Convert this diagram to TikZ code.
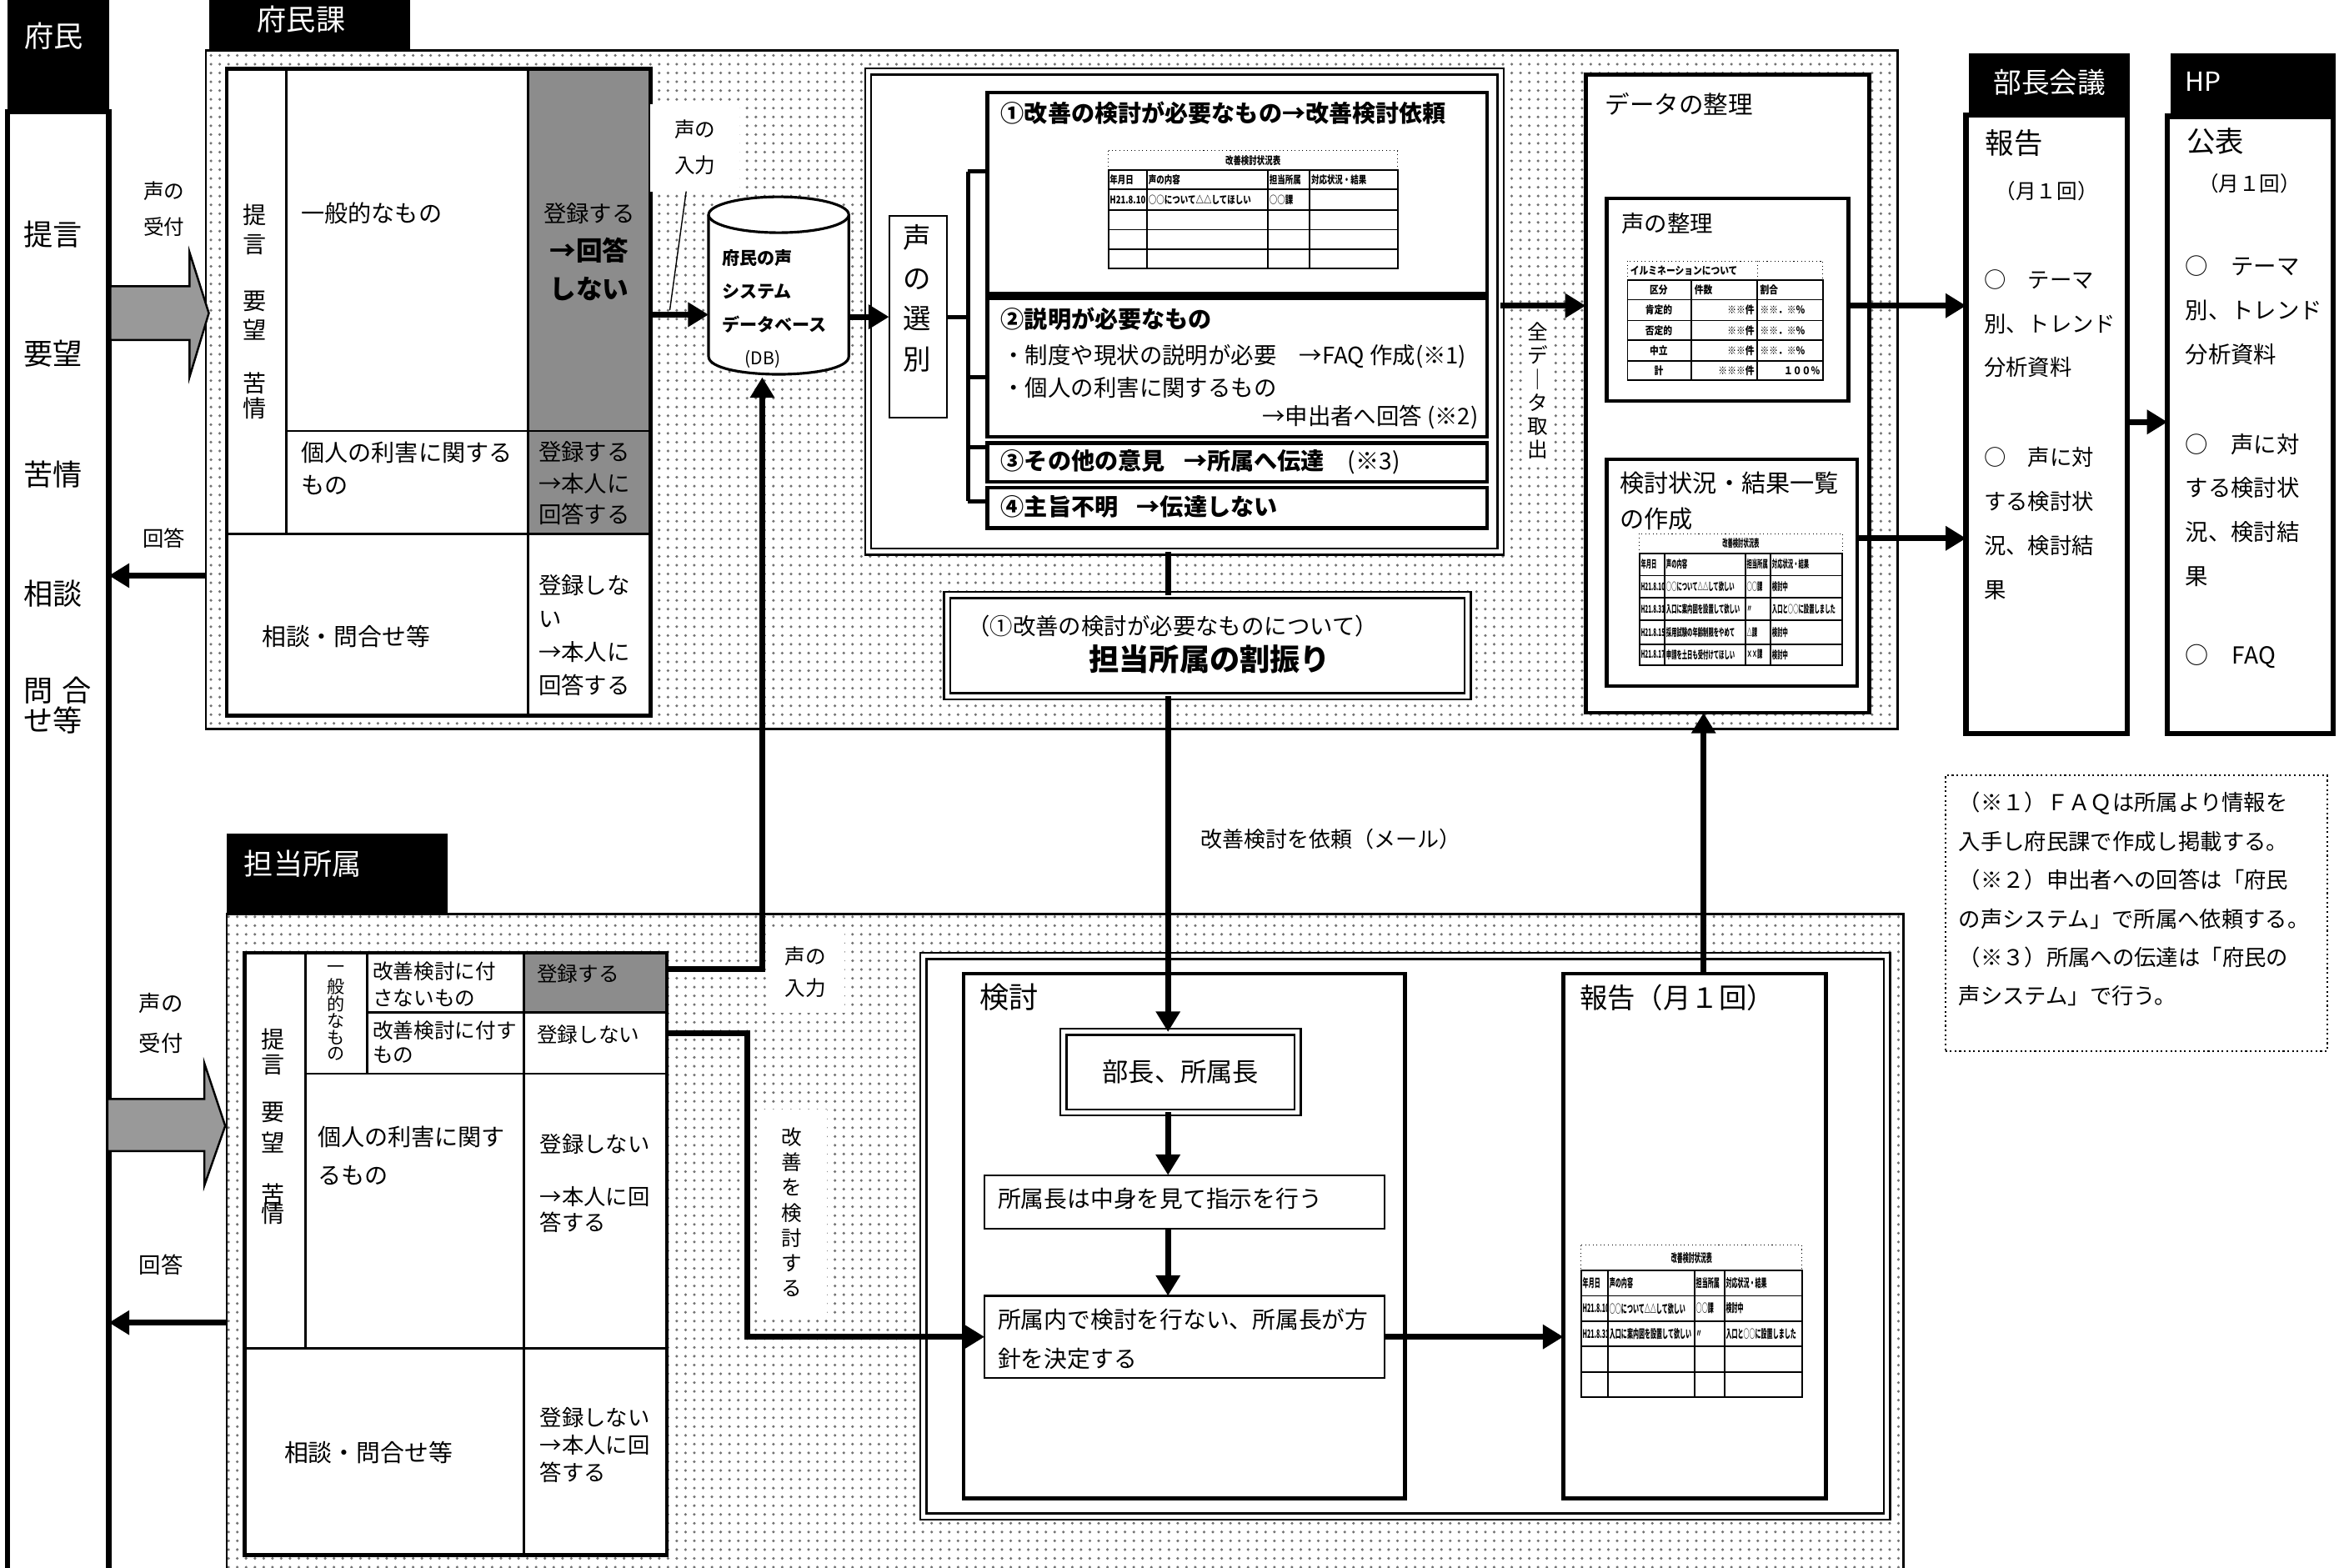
\documentclass[tikz,border=0pt]{standalone}
\usepackage{fontspec}
\setmainfont{Noto Sans CJK JP}
\usepackage{tikz}
\usetikzlibrary{arrows.meta,patterns,fit,positioning}
\newcommand{\cmpr}[2]{\scalebox{#1}[1]{#2}}

\begin{document}
\begin{tikzpicture}[x=0.17895mm, y=-0.17888mm,
    every node/.style={inner sep=0pt, outer sep=0pt},
    area/.style={draw, line width=0.8pt, pattern=dots, pattern color=black!55},
    hdbox/.style={fill=black},
    headtxt/.style={text=white, font=\fontsize{10}{12}\selectfont},
    box/.style={draw, fill=white, line width=1.3pt},
    thinbox/.style={draw, fill=white, line width=0.6pt},
    dblbox/.style={draw, fill=white, line width=0.7pt, double distance=1.4pt},
    col/.style={draw, fill=white, line width=1.8pt},
    grayfill/.style={fill=black!45},
    cellline/.style={line width=0.8pt},
    conn/.style={line width=2pt},
    arr/.style={line width=2pt, -{Triangle[length=7pt, width=8pt]}},
    bigarr/.style={draw, line width=0.7pt, fill=black!40},
    wlbl/.style={fill=white, inner sep=2pt},
    tbl/.style={line width=0.5pt},
    tbt/.style={densely dotted, line width=0.3pt},
    tb/.style={font=\fontsize{3.6}{4}\selectfont\bfseries}]
\useasboundingbox (0,0) rectangle (1568,1051);
\clip (0,0) rectangle (1568,1051);
\fill[white] (0,0) rectangle (1568,1051);

\node[hdbox, fit={(5,0)(73,75)}] (fuminH) {};
\node[col, fit={(5,75)(73,1070)}] (fuminCol) {};
\node[headtxt] (fuminT) at (36,24) {府民};
\foreach \w/\yy in {提言/157,要望/237,苦情/318,相談/398}
  \node[anchor=west, font=\fontsize{10}{12}\selectfont] (fm\yy) at (16,\yy) {\w};
\node[anchor=west, align=left, font=\fontsize{10}{10.5}\selectfont] (fmToi) at (16,473) {問\hspace{0.3em}合\\せ等};

\node[hdbox, fit={(140,0)(275,34)}] (fkH) {};
\node[headtxt] (fkT) at (202,13) {府民課};
\node[area, fit={(138,34)(1272,489)}] (fkArea) {};
\node[hdbox, fit={(152,559)(300,613)}] (tsH) {};
\node[headtxt] (tsT) at (203,579) {担当所属};
\node[area, fit={(152,613)(1276,1090)}] (tsArea) {};

\node[box, fit={(152,46)(436,480)}] (fTab) {};
\node[grayfill, fit={(354,46)(436,358)}] (fGray) {};
\draw[cellline] (192,46) -- (192,358) (354,46) -- (354,480)
  (192,289) -- (436,289) (152,358) -- (436,358);
\draw[line width=1.3pt] (fTab.north west) rectangle (fTab.south east);
\foreach \c/\yy in {提/144,言/164,要/202,望/221,苦/257,情/274}
  \node[font=\fontsize{8}{8}\selectfont] (fv\yy) at (171,\yy) {\c};
\node[anchor=west, font=\fontsize{8}{10}\selectfont] (fIppan) at (202,143) {一般的なもの};
\node[anchor=west, align=left, font=\fontsize{8}{11}\selectfont] (fKojin) at (202,314) {個人の利害に関する\\もの};
\node[align=center, font=\fontsize{7.8}{13}\selectfont] (fReg1) at (395,169) {登録する\\{\fontsize{9}{13}\selectfont\bfseries →回答}\\{\fontsize{9}{13}\selectfont\bfseries しない}};
\node[anchor=west, align=left, font=\fontsize{7.8}{10.8}\selectfont] (fReg2) at (361,324) {登録する\\→本人に\\回答する};
\node[font=\fontsize{8.2}{10}\selectfont] (fSodan) at (232,427) {相談・問合せ等};
\node[anchor=west, align=left, font=\fontsize{7.8}{11.4}\selectfont] (fReg3) at (361,426) {登録しな\\い\\→本人に\\回答する};
\node[align=center, font=\fontsize{7}{12.2}\selectfont] (ukeA) at (110,140) {声の\\受付};
\node[font=\fontsize{7.2}{9}\selectfont] (ansAT) at (110,361) {回答};
\draw[bigarr] (74,192) -- (127,192) -- (127,169) -- (140,210) -- (127,253) -- (127,228) -- (74,228) -- cycle;

\node[fit={(475,132)(569,252)}] (db) {};
\filldraw[fill=white, line width=0.9pt] (475,144) -- (475,239) .. controls (475,255) and (569,255) .. (569,239) -- (569,144);
\filldraw[fill=white, line width=0.9pt] (522,144) ellipse [x radius=8.41mm, y radius=2.15mm];
\node[anchor=west, align=left, font=\fontsize{6}{11.4}\selectfont\bfseries] (dbT) at (484,207) {府民の声\\システム\\データベース\\\hspace{1.3em}{\mdseries (DB)}};
\node[wlbl, align=center, font=\fontsize{7}{12.2}\selectfont, minimum width=10.7mm, minimum height=10.5mm] (inA) at (466,99) {声の\\入力};
\coordinate (lead) at (449,208);
\draw[line width=0.4pt] (inA.south -| 460,0) -- (lead);

\node[dblbox, fit={(582,48)(1006,370)}] (selBig) {};
\node[thinbox, fit={(596,145)(635,280)}] (sel) {};
\node[align=center, font=\fontsize{9.5}{13.9}\selectfont] (selT) at (615,200) {声\\の\\選\\別};
\node[box, fit={(662,62)(997,197)}] (c1) {};
\node[box, fit={(662,200)(997,293)}] (c2) {};
\node[box, fit={(662,297)(997,323)}] (c3) {};
\node[box, fit={(662,327)(997,354)}] (c4) {};
\draw[line width=1.4pt] (sel.east) -- ++(14,0);
\draw[line width=1.4pt] (649,115) -- (649,336);
\foreach \yy in {115,253,300,336} \draw[line width=1.4pt] (649,\yy) -- (662,\yy);
\node[anchor=west, font=\fontsize{8}{10}\selectfont\bfseries] (c1T) at (671,76) {①改善の検討が必要なもの→改善検討依頼};
\node[anchor=west, font=\fontsize{8}{10}\selectfont\bfseries] (c2T) at (671,214) {②説明が必要なもの};
\node[anchor=west, font=\fontsize{7.8}{10}\selectfont] (c2a) at (672,239) {・制度や現状の説明が必要\hspace{1em}→FAQ 作成(※1)};
\node[anchor=west, font=\fontsize{7.8}{10}\selectfont] (c2b) at (672,260) {・個人の利害に関するもの};
\node[anchor=east, font=\fontsize{7.8}{10}\selectfont] (c2c) at (991,280) {→申出者へ回答 (※2)};
\node[anchor=west, font=\fontsize{8}{10}\selectfont\bfseries] (c3T) at (671,310) {③その他の意見\hspace{0.8em}→所属へ伝達\hspace{1em}{\mdseries (※3)}};
\node[anchor=west, font=\fontsize{8}{10}\selectfont\bfseries] (c4T) at (671,340) {④主旨不明\hspace{0.8em}→伝達しない};

\draw[tbt] (743,101) rectangle (937,114);
\draw[tbl] (743,114) rectangle (937,180);
\foreach \yy in {127,141,154,167} \draw[tbl] (743,\yy) -- (937,\yy);
\foreach \xx in {769,850,878} \draw[tbl] (\xx,114) -- (\xx,180);
\node[tb] (t1h) at (840,107.5) {\cmpr{0.75}{改善検討状況表}};
\foreach \t/\xx/\yy [count=\i] in {年月日/744/120.5,声の内容/770/120.5,担当所属/851/120.5,対応状況・結果/879/120.5,H21.8.10/744/134,○○について△△してほしい/770/134,○○課/851/134}
  \node[tb, anchor=west] (t1c\i) at (\xx,\yy) {\cmpr{0.75}{\t}};

\node[box, fit={(1063,50)(1253,478)}] (dataBox) {};
\node[anchor=west, font=\fontsize{8.4}{10}\selectfont] (dataT) at (1076,70) {データの整理};
\node[box, fit={(1077,133)(1239,269)}] (vcBox) {};
\node[anchor=west, font=\fontsize{7.8}{10}\selectfont] (vcT) at (1087,150) {声の整理};
\draw[tbt] (1091,175) rectangle (1222,188) (1178,175) -- (1178,188);
\draw[tbl] (1091,188) rectangle (1222,255);
\foreach \yy in {201,215,228,242} \draw[tbl] (1091,\yy) -- (1222,\yy);
\foreach \xx in {1134,1178} \draw[tbl] (\xx,188) -- (\xx,255);
\node[tb, anchor=west] (t2h) at (1093,181.5) {\cmpr{0.85}{イルミネーションについて}};
\node[tb] (t2a) at (1112,194.5) {\cmpr{0.85}{区分}};
\node[tb, anchor=west] (t2b) at (1136,194.5) {\cmpr{0.85}{件数}};
\node[tb, anchor=west] (t2c) at (1180,194.5) {\cmpr{0.85}{割合}};
\foreach \a/\b/\c/\yy [count=\i] in {肯定的/※※件/※※．※％/208,否定的/※※件/※※．※％/221.5,中立/※※件/※※．※％/235}{
  \node[tb] (ra\i) at (1112,\yy) {\cmpr{0.85}{\a}};
  \node[tb, anchor=east] (rb\i) at (1176,\yy) {\cmpr{0.85}{\b}};
  \node[tb, anchor=west] (rc\i) at (1180,\yy) {\cmpr{0.85}{\c}};
}
\node[tb] (ra4) at (1112,248.5) {\cmpr{0.85}{計}};
\node[tb, anchor=east] (rb4) at (1176,248.5) {\cmpr{0.85}{※※※件}};
\node[tb, anchor=east] (rc4) at (1220,248.5) {\cmpr{0.85}{１００％}};

\node[box, fit={(1077,308)(1245,460)}] (ksBox) {};
\node[anchor=west, align=left, font=\fontsize{8.3}{12.2}\selectfont] (ksT) at (1086,336) {検討状況・結果一覧\\の作成};
\draw[tbt] (1099,358) rectangle (1235,371);
\draw[tbl] (1099,371) rectangle (1235,446);
\foreach \yy in {386,401,416,432} \draw[tbl] (1099,\yy) -- (1235,\yy);
\foreach \xx in {1116,1170,1187} \draw[tbl] (\xx,371) -- (\xx,446);
\node[tb] (t3h) at (1167,364.5) {\cmpr{0.5}{改善検討状況表}};
\foreach \a/\b/\c/\d/\yy [count=\i] in {年月日/声の内容/担当所属/対応状況・結果/378.5,H21.8.10/○○について△△して欲しい/○○課/検討中/393.5,H21.8.31/入口に案内図を設置して欲しい/〃/入口と○○に設置しました/408.5,H21.8.15/採用試験の年齢制限をやめて/△課/検討中/424,H21.8.17/申請を土日も受付けてほしい/××課/検討中/439}{
  \node[tb, anchor=west] (ka\i) at (1100,\yy) {\cmpr{0.5}{\a}};
  \node[tb, anchor=west] (kb\i) at (1117,\yy) {\cmpr{0.5}{\b}};
  \node[tb, anchor=west] (kc\i) at (1171,\yy) {\cmpr{0.5}{\c}};
  \node[tb, anchor=west] (kd\i) at (1188,\yy) {\cmpr{0.5}{\d}};
}
\node[wlbl, align=center, font=\fontsize{7}{8}\selectfont] (allT) at (1031,262) {全\\デ\\｜\\タ\\取\\出};

\node[hdbox, fit={(1320,36)(1428,77)}] (bkH) {};
\node[headtxt, font=\fontsize{9.6}{11}\selectfont] (bkHT) at (1374,55) {部長会議};
\node[col, fit={(1318,77)(1426,492)}] (bkCol) {};
\node[anchor=west, font=\fontsize{9.8}{11}\selectfont] (bkT1) at (1331,96) {報告};
\node[font=\fontsize{7}{9}\selectfont] (bkT2) at (1372,128) {（月１回）};
\node[anchor=west, align=left, font=\fontsize{7.5}{15}\selectfont] (bkT3) at (1330,217) {○　テーマ\\別、トレンド\\分析資料};
\node[anchor=west, align=left, font=\fontsize{7.5}{15}\selectfont] (bkT4) at (1330,351) {○　声に対\\する検討状\\況、検討結\\果};

\node[hdbox, fit={(1455,36)(1566,78)}] (hpH) {};
\node[headtxt, anchor=west, font=\fontsize{9}{11}\selectfont] (hpHT) at (1465,55) {HP};
\node[col, fit={(1453,78)(1564,492)}] (hpCol) {};
\node[anchor=west, font=\fontsize{9.8}{11}\selectfont] (hpT1) at (1466,95) {公表};
\node[font=\fontsize{7}{9}\selectfont] (hpT2) at (1508,123) {（月１回）};
\node[anchor=west, align=left, font=\fontsize{7.8}{15}\selectfont] (hpT3) at (1465,208) {○　テーマ\\別、トレンド\\分析資料};
\node[anchor=west, align=left, font=\fontsize{7.8}{15}\selectfont] (hpT4) at (1465,342) {○　声に対\\する検討状\\況、検討結\\果};
\node[anchor=west, font=\fontsize{8}{10}\selectfont] (hpT5) at (1465,440) {○　FAQ};

\node[draw, densely dotted, line width=0.6pt, fit={(1304,520)(1560,705)}] (note) {};
\node[anchor=west, align=left, font=\fontsize{7.5}{13.2}\selectfont] (noteT) at (1313,603) {（※１）ＦＡＱは所属より情報を\\入手し府民課で作成し掲載する。\\（※２）申出者への回答は「府民\\の声システム」で所属へ依頼する。\\（※３）所属への伝達は「府民の\\声システム」で行う。};

\node[dblbox, fit={(635,399)(984,467)}] (wari) {};
\node[font=\fontsize{7.8}{10}\selectfont] (wariT1) at (786,420) {（①改善の検討が必要なものについて）};
\node[font=\fontsize{10.3}{12}\selectfont\bfseries] (wariT2) at (811,442) {担当所属の割振り};
\node[font=\fontsize{7.4}{9}\selectfont] (mailT) at (892,563) {改善検討を依頼（メール）};

\node[box, fit={(164,639)(447,1043)}] (tsTab) {};
\node[grayfill, fit={(351,639)(447,679)}] (tsGray) {};
\draw[cellline] (205,639) -- (205,904) (246,639) -- (246,720) (351,639) -- (351,1043)
  (246,679) -- (447,679) (205,720) -- (447,720) (164,904) -- (447,904);
\draw[line width=1.3pt] (tsTab.north west) rectangle (tsTab.south east);
\foreach \c/\yy in {提/697,言/714,要/746,望/766,苦/801,情/814}
  \node[font=\fontsize{8}{8}\selectfont] (tv\yy) at (183,\yy) {\c};
\foreach \c/\yy [count=\i] in {一/650,般/661.5,的/673,な/684.5,も/696,の/707}
  \node[font=\fontsize{6}{6}\selectfont] (gv\i) at (225,\yy) {\c};
\node[anchor=west, align=left, font=\fontsize{7}{9.2}\selectfont] (tsA1) at (250,660) {改善検討に付\\さないもの};
\node[anchor=west, align=left, font=\fontsize{7}{8.4}\selectfont] (tsA2) at (250,699) {改善検討に付す\\もの};
\node[anchor=west, font=\fontsize{7}{9}\selectfont] (tsB1) at (360,653) {登録する};
\node[anchor=west, font=\fontsize{7}{9}\selectfont] (tsB2) at (360,694) {登録しない};
\node[anchor=west, align=left, font=\fontsize{8}{13.2}\selectfont] (tsK) at (213,775) {個人の利害に関す\\るもの};
\node[anchor=west, font=\fontsize{7.5}{9}\selectfont] (tsK1) at (362,767) {登録しない};
\node[anchor=west, align=left, font=\fontsize{7.5}{8.7}\selectfont] (tsK2) at (362,811) {→本人に回\\答する};
\node[font=\fontsize{8.2}{10}\selectfont] (tsS) at (247,974) {相談・問合せ等};
\node[anchor=west, align=left, font=\fontsize{7.5}{9.4}\selectfont] (tsS1) at (362,969) {登録しない\\→本人に回\\答する};
\node[align=center, font=\fontsize{7.5}{13.7}\selectfont] (ukeB) at (108,686) {声の\\受付};
\node[font=\fontsize{7.5}{9}\selectfont] (ansBT) at (108,848) {回答};
\draw[bigarr] (72,737) -- (137,737) -- (137,713) -- (151,755) -- (137,795) -- (137,772) -- (72,772) -- cycle;
\node[wlbl, align=center, font=\fontsize{7}{10.7}\selectfont, minimum width=9.3mm, minimum height=9.8mm] (inB) at (540,652) {声の\\入力};
\node[wlbl, align=center, font=\fontsize{7}{8.6}\selectfont, minimum width=8.4mm, minimum height=24.7mm] (kzT) at (531,813) {改\\善\\を\\検\\討\\す\\る};

\node[dblbox, fit={(619,641)(1265,1017)}] (kCont) {};
\node[box, fit={(646,653)(942,1005)}] (kBox) {};
\node[anchor=west, font=\fontsize{10}{12}\selectfont] (kT) at (657,669) {検討};
\node[dblbox, fit={(713,692)(870,746)}] (bch) {};
\node[font=\fontsize{8.9}{11}\selectfont] (bchT) at (bch.center) {部長、所属長};
\node[thinbox, fit={(660,788)(928,824)}] (sz1) {};
\node[anchor=west, font=\fontsize{7.9}{10}\selectfont] (sz1T) at (669,804) {所属長は中身を見て指示を行う};
\node[thinbox, fit={(660,869)(928,924)}] (sz2) {};
\node[anchor=west, align=left, font=\fontsize{7.9}{13.2}\selectfont] (sz2T) at (669,898) {所属内で検討を行ない、所属長が方\\針を決定する};
\node[box, fit={(1048,653)(1224,1005)}] (hk) {};
\node[anchor=west, font=\fontsize{9.5}{11}\selectfont] (hkT) at (1059,669) {報告（月１回）};
\draw[tbt] (1060,835) rectangle (1208,852);
\draw[tbl] (1060,852) rectangle (1208,937);
\foreach \yy in {869,886,903,920} \draw[tbl] (1060,\yy) -- (1208,\yy);
\foreach \xx in {1078,1136,1156} \draw[tbl] (\xx,852) -- (\xx,937);
\node[tb, font=\fontsize{4}{4.5}\selectfont\bfseries] (t4h) at (1134,843.5) {\cmpr{0.5}{改善検討状況表}};
\foreach \a/\b/\c/\d/\yy [count=\i] in {年月日/声の内容/担当所属/対応状況・結果/860.5,H21.8.10/○○について△△して欲しい/○○課/検討中/877.5,H21.8.31/入口に案内図を設置して欲しい/〃/入口と○○に設置しました/894.5}{
  \node[tb, anchor=west, font=\fontsize{4}{4.5}\selectfont\bfseries] (ha\i) at (1061,\yy) {\cmpr{0.5}{\a}};
  \node[tb, anchor=west, font=\fontsize{4}{4.5}\selectfont\bfseries] (hb\i) at (1079,\yy) {\cmpr{0.5}{\b}};
  \node[tb, anchor=west, font=\fontsize{4}{4.5}\selectfont\bfseries] (hc\i) at (1137,\yy) {\cmpr{0.5}{\c}};
  \node[tb, anchor=west, font=\fontsize{4}{4.5}\selectfont\bfseries] (hd\i) at (1157,\yy) {\cmpr{0.5}{\d}};
}

\coordinate (ansA) at (138,386);
\draw[arr] (ansA) -- (ansA -| fuminCol.east);
\coordinate (ansB) at (152,887);
\draw[arr] (ansB) -- (ansB -| fuminCol.east);
\coordinate (dbIn) at (475,211);
\draw[arr] (fTab.east |- dbIn) -- (dbIn);
\draw[arr] (db.east |- sel.west) -- (sel.west);
\draw[arr] (selBig.east |- 0,205) -- (dataBox.west |- 0,205);
\draw[arr] (vcBox.east |- 0,205) -- (bkCol.west |- 0,205);
\draw[arr] (ksBox.east |- 0,361) -- (bkCol.west |- 0,361);
\draw[arr] (bkCol.east |- 0,283) -- (hpCol.west |- 0,283);
\coordinate (vin) at (447,650);
\coordinate (dbUp) at (511,253);
\draw[arr] (vin) -| (dbUp);
\coordinate (kz) at (447,693);
\draw[arr] (kz) -- ++(54,0) |- (sz2.west);
\coordinate (vx) at (783,0);
\draw[conn] (selBig.south -| vx) -- (wari.north -| vx);
\draw[arr] (wari.south -| vx) -- (bch.north -| vx);
\draw[arr] (bch.south -| vx) -- (sz1.north -| vx);
\draw[arr] (sz1.south -| vx) -- (sz2.north -| vx);
\draw[arr] (sz2.east) -- (sz2.east -| hk.west);
\coordinate (hx) at (1142,0);
\draw[arr] (hk.north -| hx) -- (dataBox.south -| hx);
\end{tikzpicture}
\end{document}
